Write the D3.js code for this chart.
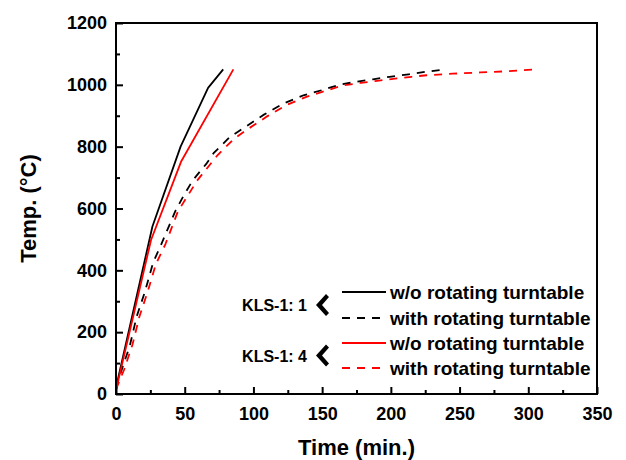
<!DOCTYPE html>
<html lang="en">
<head>
    <meta charset="UTF-8">
    <script src="https://d3js.org/d3.v7.min.js"></script>
    <style>
        body { margin: 0; background: #fff; }
        text { font-family: "Liberation Sans", Arial, sans-serif; font-weight: bold; fill: #000; }
        .frame { fill: none; stroke: #000; stroke-width: 2px; }
        .series { fill: none; stroke-width: 1.8px; stroke-linejoin: round; }
    </style>
</head>
<body>
<script>
    const width = 626;
    const height = 460;
    const margin = {top: 23, right: 29, bottom: 66, left: 116};

    // x: time (min.), y: temperature (°C)
    const kls1Solid = [[0, 20], [26.5, 542], [47, 800], [67, 990], [78, 1050]];
    const kls1Dashed = [[0, 20], [5, 90], [10, 155], [15, 250], [21, 330], [27, 425], [33, 485], [43, 590],
        [49, 640], [56, 692], [66, 746], [71, 779], [83, 832], [95, 866], [107, 902], [122, 940], [137, 967],
        [150, 983], [163, 1001], [175, 1010], [187, 1018], [199, 1026], [213, 1034], [225, 1042], [240, 1050]];
    const kls4Solid = [[0, 13], [25.5, 498], [47.3, 751], [85.4, 1050]];
    const kls4Dashed = [[0, 15], [6, 80], [12, 160], [17, 250], [23, 330], [29, 420], [36, 485], [45, 590],
        [52, 640], [59, 690], [68, 740], [74, 773], [86, 826], [97, 860], [110, 898], [124, 935], [139, 962],
        [152, 980], [165, 998], [178, 1006], [190, 1013], [203, 1020], [215, 1026], [226, 1031], [245, 1036],
        [265, 1040], [285, 1044], [306, 1050]];

    const xTicks = [0, 50, 100, 150, 200, 250, 300, 350];
    const yTicks = [0, 200, 400, 600, 800, 1000, 1200];
    const legendLabels = ["w/o rotating turntable", "with rotating turntable", "w/o rotating turntable", "with rotating turntable"];
    const groupLabels = ["KLS-1: 1", "KLS-1: 4"];

    const series = [
        {data: kls1Solid, color: "#000", dash: null},
        {data: kls1Dashed, color: "#000", dash: "8,7"},
        {data: kls4Solid, color: "#ff0000", dash: null},
        {data: kls4Dashed, color: "#ff0000", dash: "8,7"}
    ];

    const x = d3.scaleLinear().domain([0, 350]).range([margin.left, width - margin.right]);
    const y = d3.scaleLinear().domain([0, 1200]).range([height - margin.bottom, margin.top]);

    const svg = d3.select('body').append('svg')
        .attr('width', width)
        .attr('height', height);

    const line = d3.line().x(d => x(d[0])).y(d => y(d[1]));

    svg.selectAll('.series')
        .data(series)
        .enter()
        .append('path')
        .attr('class', 'series')
        .attr('d', d => line(d.data))
        .attr('stroke', d => d.color)
        .attr('stroke-dasharray', d => d.dash);

    // axes, ticks pointing inward
    svg.append('g')
        .attr('transform', `translate(0,${y(0)})`)
        .call(d3.axisBottom(x).tickValues(xTicks).tickSize(-7).tickPadding(13).tickFormat(d3.format('d')));
    svg.append('g')
        .attr('transform', `translate(0,${y(0)})`)
        .call(d3.axisBottom(x).tickValues(d3.range(25, 350, 50)).tickSize(-4).tickFormat(''));

    svg.append('g')
        .attr('transform', `translate(${x(0)},0)`)
        .call(d3.axisLeft(y).tickValues(yTicks).tickSize(-7).tickPadding(9).tickFormat(d3.format('d')));
    svg.append('g')
        .attr('transform', `translate(${x(0)},0)`)
        .call(d3.axisLeft(y).tickValues(d3.range(100, 1200, 200)).tickSize(-4).tickFormat(''));

    svg.selectAll('.tick line').attr('stroke', '#000').attr('stroke-width', 2);
    svg.selectAll('.domain').remove();
    svg.selectAll('.tick text').style('font-size', '18px').style('font-family', '"Liberation Sans", Arial, sans-serif').style('font-weight', 'bold');

    svg.append('rect')
        .attr('class', 'frame')
        .attr('x', x(0))
        .attr('y', y(1200))
        .attr('width', x(350) - x(0))
        .attr('height', y(0) - y(1200));

    svg.append('text')
        .attr('x', (x(0) + x(350)) / 2)
        .attr('y', 455)
        .attr('text-anchor', 'middle')
        .style('font-size', '22px')
        .text('Time (min.)');

    svg.append('text')
        .attr('transform', `translate(36,${(y(0) + y(1200)) / 2}) rotate(-90)`)
        .attr('text-anchor', 'middle')
        .style('font-size', '22px')
        .text('Temp. (°C)');

    // legend
    const legendX = 342;
    const legendRows = [292, 318, 343, 368];
    const legend = svg.append('g');
    legend.selectAll('line')
        .data(series)
        .enter()
        .append('line')
        .attr('x1', legendX)
        .attr('x2', legendX + 44)
        .attr('y1', (d, i) => legendRows[i])
        .attr('y2', (d, i) => legendRows[i])
        .attr('stroke', d => d.color)
        .attr('stroke-width', 1.8)
        .attr('stroke-dasharray', d => d.dash);
    legend.selectAll('text.lab')
        .data(legendLabels)
        .enter()
        .append('text')
        .attr('class', 'lab')
        .attr('x', legendX + 48)
        .attr('y', (d, i) => legendRows[i] + 7)
        .style('font-size', '19px')
        .text(d => d);

    groupLabels.forEach((g, i) => {
        const cy = (legendRows[i * 2] + legendRows[i * 2 + 1]) / 2;
        legend.append('text')
            .attr('x', 307)
            .attr('y', cy + 6)
            .attr('text-anchor', 'end')
            .style('font-size', '16px')
            .text(g);
        legend.append('path')
            .attr('d', `M326,${cy - 11} L316,${cy} L326,${cy + 11} L329,${cy + 8} L322,${cy} L329,${cy - 8} Z`)
            .attr('fill', '#000');
    });
</script>
</body>
</html>
